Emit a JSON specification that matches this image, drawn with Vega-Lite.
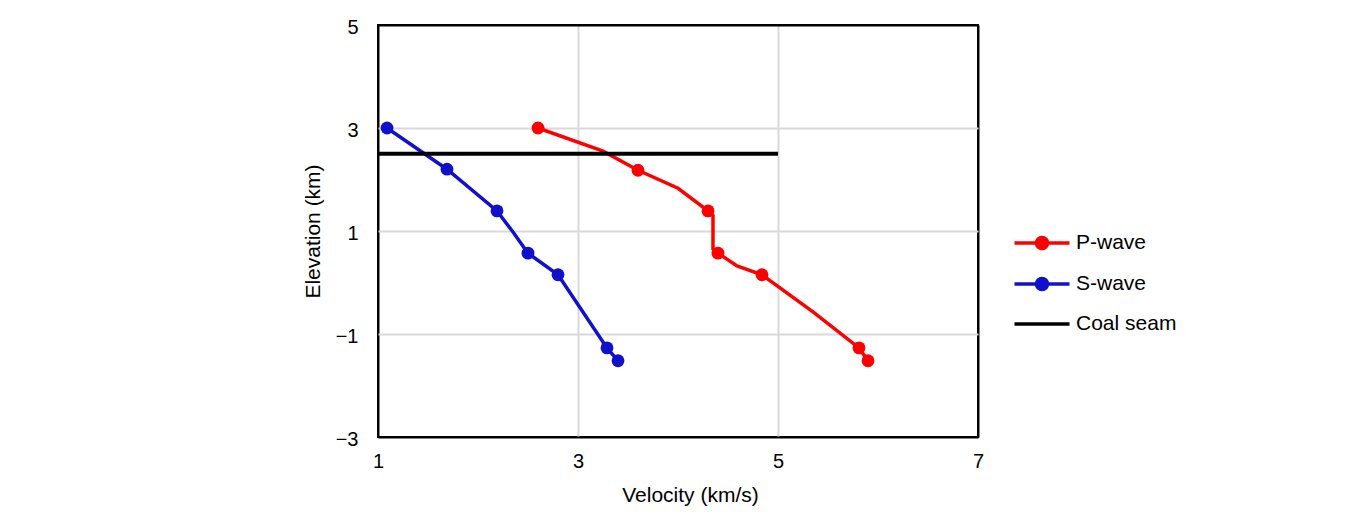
{
  "$schema": "https://vega.github.io/schema/vega-lite/v6.json",
  "autosize": {"type": "none"},
  "padding": {"left": 378, "top": 25, "right": 390, "bottom": 80},
  "width": 600,
  "height": 412,
  "background": "white",
  "config": {
    "font": "Liberation Sans",
    "view": {"stroke": "black", "strokeWidth": 2},
    "axis": {
      "domain": false,
      "ticks": false,
      "grid": true,
      "gridWidth": 2,
      "labelFont": "Liberation Sans",
      "labelFontSize": 20,
      "labelColor": "black",
      "titleFont": "Liberation Sans",
      "titleFontSize": 21,
      "titleFontWeight": "normal",
      "titleColor": "black"
    },
    "legend": {
      "labelFont": "Liberation Sans",
      "labelFontSize": 21,
      "labelColor": "black"
    }
  },
  "data": {
    "values": [
      {"series": "P-wave", "velocity": 2.6, "elevation": 3.0, "marker": true},
      {"series": "P-wave", "velocity": 3.25, "elevation": 2.55, "marker": false},
      {"series": "P-wave", "velocity": 3.6, "elevation": 2.18, "marker": true},
      {"series": "P-wave", "velocity": 4.0, "elevation": 1.83, "marker": false},
      {"series": "P-wave", "velocity": 4.3, "elevation": 1.39, "marker": true},
      {"series": "P-wave", "velocity": 4.35, "elevation": 1.3, "marker": false},
      {"series": "P-wave", "velocity": 4.35, "elevation": 0.65, "marker": false},
      {"series": "P-wave", "velocity": 4.4, "elevation": 0.57, "marker": true},
      {"series": "P-wave", "velocity": 4.59, "elevation": 0.32, "marker": false},
      {"series": "P-wave", "velocity": 4.84, "elevation": 0.15, "marker": true},
      {"series": "P-wave", "velocity": 5.35, "elevation": -0.57, "marker": false},
      {"series": "P-wave", "velocity": 5.81, "elevation": -1.27, "marker": true},
      {"series": "P-wave", "velocity": 5.9, "elevation": -1.52, "marker": true},
      {"series": "S-wave", "velocity": 1.09, "elevation": 3.0, "marker": true},
      {"series": "S-wave", "velocity": 1.69, "elevation": 2.2, "marker": true},
      {"series": "S-wave", "velocity": 2.19, "elevation": 1.39, "marker": true},
      {"series": "S-wave", "velocity": 2.35, "elevation": 0.98, "marker": false},
      {"series": "S-wave", "velocity": 2.5, "elevation": 0.57, "marker": true},
      {"series": "S-wave", "velocity": 2.8, "elevation": 0.15, "marker": true},
      {"series": "S-wave", "velocity": 3.29, "elevation": -1.27, "marker": true},
      {"series": "S-wave", "velocity": 3.4, "elevation": -1.52, "marker": true},
      {"series": "Coal seam", "velocity": 1.0, "elevation": 2.5, "marker": false},
      {"series": "Coal seam", "velocity": 5.0, "elevation": 2.5, "marker": false}
    ]
  },
  "encoding": {
    "x": {
      "field": "velocity",
      "type": "quantitative",
      "scale": {"domain": [1, 7], "nice": false, "zero": false},
      "axis": {
        "values": [1, 3, 5, 7],
        "title": "Velocity (km/s)",
        "labelFlush": false,
        "labelPadding": 14,
        "titlePadding": 13,
        "titleX": 312,
        "gridColor": {"condition": {"test": "datum.value === 1 || datum.value === 7", "value": "black"}, "value": "#d9d9d9"}
      }
    },
    "y": {
      "field": "elevation",
      "type": "quantitative",
      "scale": {"domain": [-3, 5], "nice": false, "zero": false},
      "axis": {
        "values": [-3, -1, 1, 3, 5],
        "title": "Elevation (km)",
        "labelPadding": 20,
        "labelOffset": 2,
        "titlePadding": 12,
        "gridColor": {"condition": {"test": "datum.value === -3 || datum.value === 5", "value": "black"}, "value": "#d9d9d9"}
      }
    },
    "color": {
      "field": "series",
      "type": "nominal",
      "scale": {"domain": ["P-wave", "S-wave", "Coal seam"], "range": ["#ff0000", "#1111cc", "#000000"]},
      "legend": {
        "title": null,
        "orient": "none",
        "legendX": 652,
        "legendY": 206,
        "padding": 0,
        "symbolSize": 400,
        "symbolStrokeWidth": 3.5,
        "labelOffset": 22,
        "rowPadding": 15,
        "encode": {
          "symbols": {
            "update": {
              "shape": {"signal": "datum.value === 'Coal seam' ? 'M-2.75,0L2.75,0' : 'M-2.75,0L2.75,0M-0.55,0A0.55,0.55 0 1,0 0.55,0A0.55,0.55 0 1,0 -0.55,0Z'"},
              "fill": {"signal": "scale('color', datum.value)"},
              "stroke": {"signal": "scale('color', datum.value)"},
              "strokeWidth": {"value": 3.5},
              "opacity": {"value": 1}
            }
          }
        }
      }
    },
    "order": {"field": "elevation", "sort": "descending"}
  },
  "layer": [
    {
      "transform": [{"filter": "datum.series !== 'Coal seam'"}],
      "mark": {"type": "line", "strokeWidth": 3.5}
    },
    {
      "transform": [{"filter": "datum.marker"}],
      "mark": {"type": "point", "shape": "circle", "filled": true, "opacity": 1, "size": 165}
    },
    {
      "transform": [{"filter": "datum.series === 'Coal seam'"}],
      "mark": {"type": "line", "strokeWidth": 4}
    }
  ]
}
